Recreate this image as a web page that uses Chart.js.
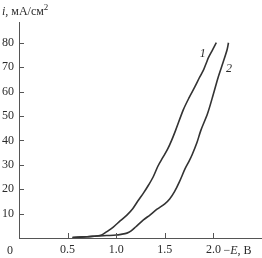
<!DOCTYPE html>
<html>
<head>
<meta charset="utf-8">
<script src="https://cdn.jsdelivr.net/npm/chart.js@4/dist/chart.umd.min.js"></script>
<style>
  html, body { margin: 0; padding: 0; background: #fff; }
  #wrap { width: 262px; height: 258px; }
</style>
</head>
<body>
<div id="wrap"><canvas id="myChart" width="262" height="258"></canvas></div>
<script>
// Datos
const e1 = [0.55, 0.7, 0.8, 0.85, 0.9, 0.97, 1.04, 1.11, 1.17, 1.23, 1.28, 1.33, 1.38, 1.43, 1.48, 1.53, 1.57, 1.61, 1.69, 1.75, 1.81, 1.86, 1.9, 1.93, 1.95, 1.99, 2.03];
const i1 = [0.2, 0.5, 0.8, 1.2, 2.5, 4.5, 7, 9.4, 12, 15.6, 18.4, 21.5, 25, 29.5, 33, 36.5, 40, 44, 52.5, 57.5, 62, 66, 69, 72, 74, 77, 80];
const e2 = [0.55, 0.7, 0.8, 0.9, 1.0, 1.05, 1.11, 1.15, 1.2, 1.28, 1.35, 1.42, 1.5, 1.55, 1.6, 1.65, 1.71, 1.75, 1.78, 1.83, 1.87, 1.94, 2.0, 2.05, 2.1, 2.14, 2.155];
const i2 = [0.2, 0.5, 0.8, 1.0, 1.2, 1.5, 2, 2.8, 4.5, 7.4, 9.5, 11.8, 14, 16, 19, 23, 28.5, 31.5, 34, 39, 44, 51, 59, 66, 72, 77, 80];

const xTicks = [0.5, 1.0, 1.5, 2.0];
const yTicks = [10, 20, 30, 40, 50, 60, 70, 80];
const curveNames = ["1", "2"];
const curveNameE = [1.89, 2.16];
const curveNameI = [76, 69.5];

const font = "Liberation Serif";
const ink = "#2b2b2b";

function toPoints(xs, ys) {
  return xs.map((x, k) => ({ x: x, y: ys[k] }));
}

// Marcas hacia adentro, títulos y etiquetas de curvas
const extras = {
  id: "extras",
  afterDraw(chart) {
    const { ctx, chartArea } = chart;
    const sx = chart.scales.x;
    const sy = chart.scales.y;
    ctx.save();
    ctx.strokeStyle = "#555";
    ctx.lineWidth = 1;
    ctx.beginPath();
    xTicks.forEach(v => {
      const px = Math.round(sx.getPixelForValue(v)) + 0.5;
      ctx.moveTo(px, chartArea.bottom);
      ctx.lineTo(px, chartArea.bottom - 5);
    });
    yTicks.forEach(v => {
      const py = Math.round(sy.getPixelForValue(v)) + 0.5;
      ctx.moveTo(chartArea.left, py);
      ctx.lineTo(chartArea.left + 5, py);
    });
    ctx.stroke();

    ctx.fillStyle = ink;
    ctx.textBaseline = "alphabetic";
    // "0" en la esquina
    ctx.font = "12px '" + font + "'";
    ctx.textAlign = "center";
    ctx.fillText("0", chartArea.left - 9, 254);

    // título eje x
    ctx.textAlign = "left";
    let x = sx.getPixelForValue(2.0) + 10;
    ctx.fillText("\u2212", x, 254);
    x += ctx.measureText("\u2212").width;
    ctx.font = "italic 12px '" + font + "'";
    ctx.fillText("E", x, 254);
    x += ctx.measureText("E").width;
    ctx.font = "12px '" + font + "'";
    ctx.fillText(", В", x, 254);

    // título eje y
    x = 2;
    ctx.font = "italic 12px '" + font + "'";
    ctx.fillText("i", x, 15);
    x += ctx.measureText("i").width;
    ctx.font = "12px '" + font + "'";
    ctx.fillText(", мА/см", x, 15);
    x += ctx.measureText(", мА/см").width;
    ctx.font = "9px '" + font + "'";
    ctx.fillText("2", x, 10);

    // etiquetas de las curvas
    ctx.font = "italic 12px '" + font + "'";
    ctx.textAlign = "center";
    curveNames.forEach((n, k) => {
      ctx.fillText(n, sx.getPixelForValue(curveNameE[k]), sy.getPixelForValue(curveNameI[k]) + 4);
    });
    ctx.restore();
  }
};

const lineStyle = {
  borderColor: "#333",
  borderWidth: 1.6,
  pointRadius: 0,
  tension: 0.3,
  fill: false
};

new Chart(document.getElementById("myChart"), {
  type: "line",
  data: {
    datasets: [
      Object.assign({ label: "1", data: toPoints(e1, i1) }, lineStyle),
      Object.assign({ label: "2", data: toPoints(e2, i2) }, lineStyle)
    ]
  },
  options: {
    responsive: false,
    animation: false,
    layout: { padding: { top: 22, right: 0, left: 0, bottom: 0 } },
    plugins: { legend: { display: false }, tooltip: { enabled: false } },
    scales: {
      x: {
        type: "linear",
        min: 0,
        max: 2.5,
        afterBuildTicks: axis => { axis.ticks = xTicks.map(v => ({ value: v })); },
        afterFit: axis => { axis.height = 20; },
        grid: { display: false, drawTicks: false },
        border: { display: true, color: "#555", width: 1 },
        ticks: {
          padding: 5,
          maxRotation: 0,
          color: ink,
          font: { family: font, size: 12 },
          callback: v => v.toFixed(1)
        }
      },
      y: {
        type: "linear",
        min: 0,
        max: 88.5,
        afterBuildTicks: axis => { axis.ticks = yTicks.map(v => ({ value: v })); },
        afterFit: axis => { axis.width = 19; },
        grid: { display: false, drawTicks: false },
        border: { display: true, color: "#555", width: 1 },
        ticks: {
          padding: 5,
          color: ink,
          font: { family: font, size: 12 }
        }
      }
    }
  },
  plugins: [extras]
});
</script>
</body>
</html>
